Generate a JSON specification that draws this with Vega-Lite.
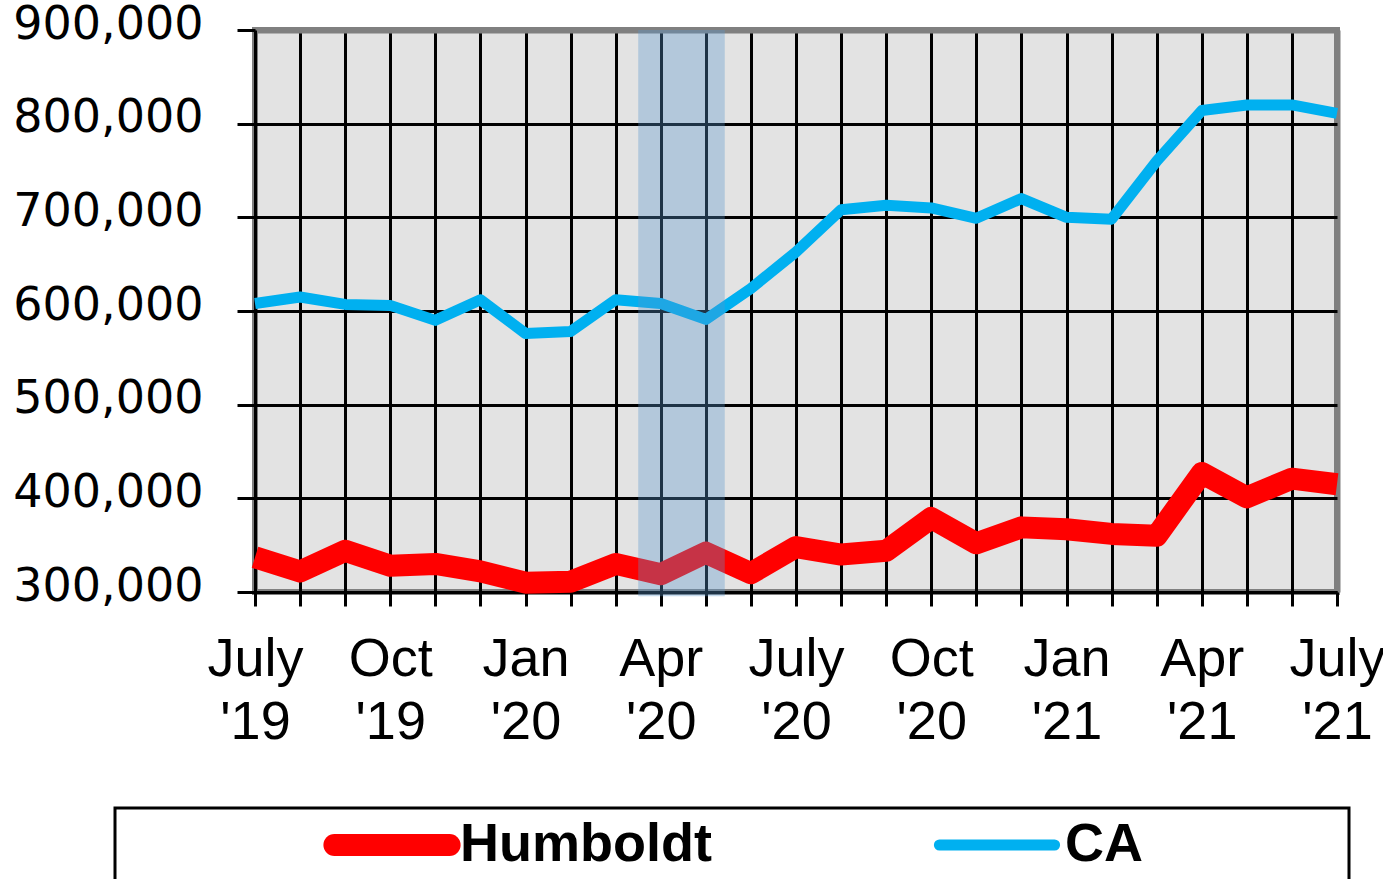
{
  "$schema": "https://vega.github.io/schema/vega-lite/v6.json",
  "width": 1082,
  "height": 562,
  "autosize": {"type": "none"},
  "padding": {"left": 255, "top": 30, "right": 46, "bottom": 287},
  "background": "white",
  "config": {
    "view": {"fill": "#e3e3e3", "stroke": "#808080", "strokeWidth": 6},
    "font": "Liberation Sans"
  },
  "datasets": {
    "series": [
      {"i": 0, "month": "2019-07", "series": "Humboldt", "value": 337000},
      {"i": 1, "month": "2019-08", "series": "Humboldt", "value": 322000},
      {"i": 2, "month": "2019-09", "series": "Humboldt", "value": 344000},
      {"i": 3, "month": "2019-10", "series": "Humboldt", "value": 328000},
      {"i": 4, "month": "2019-11", "series": "Humboldt", "value": 330000},
      {"i": 5, "month": "2019-12", "series": "Humboldt", "value": 322000},
      {"i": 6, "month": "2020-01", "series": "Humboldt", "value": 310000},
      {"i": 7, "month": "2020-02", "series": "Humboldt", "value": 311000},
      {"i": 8, "month": "2020-03", "series": "Humboldt", "value": 330000},
      {"i": 9, "month": "2020-04", "series": "Humboldt", "value": 319000},
      {"i": 10, "month": "2020-05", "series": "Humboldt", "value": 342000},
      {"i": 11, "month": "2020-06", "series": "Humboldt", "value": 320000},
      {"i": 12, "month": "2020-07", "series": "Humboldt", "value": 348000},
      {"i": 13, "month": "2020-08", "series": "Humboldt", "value": 340000},
      {"i": 14, "month": "2020-09", "series": "Humboldt", "value": 344000},
      {"i": 15, "month": "2020-10", "series": "Humboldt", "value": 379000},
      {"i": 16, "month": "2020-11", "series": "Humboldt", "value": 352000},
      {"i": 17, "month": "2020-12", "series": "Humboldt", "value": 369000},
      {"i": 18, "month": "2021-01", "series": "Humboldt", "value": 367000},
      {"i": 19, "month": "2021-02", "series": "Humboldt", "value": 362000},
      {"i": 20, "month": "2021-03", "series": "Humboldt", "value": 360000},
      {"i": 21, "month": "2021-04", "series": "Humboldt", "value": 427000},
      {"i": 22, "month": "2021-05", "series": "Humboldt", "value": 401000},
      {"i": 23, "month": "2021-06", "series": "Humboldt", "value": 421000},
      {"i": 24, "month": "2021-07", "series": "Humboldt", "value": 415000},
      {"i": 0, "month": "2019-07", "series": "CA", "value": 608000},
      {"i": 1, "month": "2019-08", "series": "CA", "value": 615000},
      {"i": 2, "month": "2019-09", "series": "CA", "value": 607000},
      {"i": 3, "month": "2019-10", "series": "CA", "value": 606000},
      {"i": 4, "month": "2019-11", "series": "CA", "value": 590000},
      {"i": 5, "month": "2019-12", "series": "CA", "value": 612000},
      {"i": 6, "month": "2020-01", "series": "CA", "value": 576000},
      {"i": 7, "month": "2020-02", "series": "CA", "value": 578000},
      {"i": 8, "month": "2020-03", "series": "CA", "value": 612000},
      {"i": 9, "month": "2020-04", "series": "CA", "value": 608000},
      {"i": 10, "month": "2020-05", "series": "CA", "value": 591000},
      {"i": 11, "month": "2020-06", "series": "CA", "value": 624000},
      {"i": 12, "month": "2020-07", "series": "CA", "value": 663000},
      {"i": 13, "month": "2020-08", "series": "CA", "value": 708000},
      {"i": 14, "month": "2020-09", "series": "CA", "value": 713000},
      {"i": 15, "month": "2020-10", "series": "CA", "value": 710000},
      {"i": 16, "month": "2020-11", "series": "CA", "value": 699000},
      {"i": 17, "month": "2020-12", "series": "CA", "value": 720000},
      {"i": 18, "month": "2021-01", "series": "CA", "value": 700000},
      {"i": 19, "month": "2021-02", "series": "CA", "value": 698000},
      {"i": 20, "month": "2021-03", "series": "CA", "value": 760000},
      {"i": 21, "month": "2021-04", "series": "CA", "value": 814000},
      {"i": 22, "month": "2021-05", "series": "CA", "value": 820000},
      {"i": 23, "month": "2021-06", "series": "CA", "value": 820000},
      {"i": 24, "month": "2021-07", "series": "CA", "value": 811000}
    ],
    "band": [{"start": 8.5, "end": 10.42, "lo": 295500, "hi": 900000}]
  },
  "layer": [
    {
      "data": {"name": "series"},
      "mark": {"type": "line", "strokeJoin": "round"},
      "encoding": {
        "x": {
          "field": "i",
          "type": "quantitative",
          "scale": {"domain": [0, 24], "nice": false, "zero": false},
          "axis": {
            "title": null,
            "values": [0,1,2,3,4,5,6,7,8,9,10,11,12,13,14,15,16,17,18,19,20,21,22,23,24],
            "labelExpr": "datum.value % 3 == 0 ? [['July','Oct','Jan','Apr'][(datum.value/3)%4], \"'\" + (19 + floor((datum.value+6)/12))] : ''",
            "labelFont": "Liberation Sans",
            "labelFontSize": 54,
            "labelColor": "black",
            "labelBaseline": "alphabetic",
            "labelLineHeight": 63,
            "labelPadding": 69,
            "labelOverlap": false,
            "labelFlush": false,
            "labelBound": false,
            "labelLimit": 0,
            "tickSize": 14,
            "tickColor": "black",
            "tickWidth": 3,
            "domainColor": "black",
            "domainWidth": 3,
            "grid": true,
            "gridColor": {"condition": {"test": "datum.value == 24", "value": "#808080"}, "value": "black"},
            "gridWidth": {"condition": {"test": "datum.value == 24", "value": 6}, "value": 3},
            "gridOpacity": 1
          }
        },
        "y": {
          "field": "value",
          "type": "quantitative",
          "scale": {"domain": [300000, 900000], "nice": false, "zero": false},
          "axis": {
            "title": null,
            "values": [300000, 400000, 500000, 600000, 700000, 800000, 900000],
            "format": ",.0f",
            "labelFont": "DejaVu Sans",
            "labelFontSize": 46,
            "labelColor": "black",
            "labelPadding": 34,
            "labelOffset": -6,
            "labelLimit": 0,
            "labelOverlap": false,
            "labelFlush": false,
            "labelBound": false,
            "tickSize": 18,
            "tickColor": "black",
            "tickWidth": 3,
            "domainColor": "black",
            "domainWidth": 3,
            "grid": true,
            "gridColor": {"condition": {"test": "datum.value == 900000", "value": "#808080"}, "value": "black"},
            "gridWidth": {"condition": {"test": "datum.value == 900000", "value": 6}, "value": 3},
            "gridOpacity": 1
          }
        },
        "color": {
          "field": "series",
          "type": "nominal",
          "scale": {"domain": ["Humboldt", "CA"], "range": ["#FF0000", "#00B0F0"]},
          "legend": {
            "orient": "none",
            "legendX": -140,
            "legendY": 778,
            "direction": "horizontal",
            "columns": 2,
            "title": "\u00a0",
            "titleOrient": "right",
            "titleFontSize": 2,
            "titlePadding": 196,
            "symbolType": "M-3.6,0H3.6",
            "symbolSize": 1024,
            "symbolOffset": 240,
            "clipHeight": 54,
            "labelFont": "Liberation Sans",
            "labelFontSize": 54,
            "labelFontWeight": "bold",
            "labelColor": "black",
            "labelOffset": 41,
            "labelLimit": 0,
            "columnPadding": 18,
            "padding": 10,
            "strokeColor": "black",
            "fillColor": "white",
            "encode": {
              "symbols": {"update": {"strokeCap": {"value": "round"}}},
              "legend": {"update": {"strokeWidth": {"value": 3}}}
            }
          }
        },
        "strokeWidth": {
          "field": "series",
          "type": "nominal",
          "scale": {"domain": ["Humboldt", "CA"], "range": [22, 11]},
          "legend": {
            "orient": "none",
            "legendX": -140,
            "legendY": 778,
            "direction": "horizontal",
            "columns": 2,
            "title": "\u00a0",
            "titleOrient": "right",
            "titleFontSize": 2,
            "titlePadding": 196,
            "symbolType": "M-3.6,0H3.6",
            "symbolSize": 1024,
            "symbolOffset": 240,
            "clipHeight": 54,
            "labelFont": "Liberation Sans",
            "labelFontSize": 54,
            "labelFontWeight": "bold",
            "labelColor": "black",
            "labelOffset": 41,
            "labelLimit": 0,
            "columnPadding": 18,
            "padding": 10,
            "strokeColor": "black",
            "fillColor": "white"
          }
        }
      }
    },
    {
      "data": {"name": "band"},
      "mark": {"type": "rect", "fill": "#5896ce", "opacity": 0.34},
      "encoding": {
        "x": {"field": "start", "type": "quantitative"},
        "x2": {"field": "end"},
        "y": {"field": "lo", "type": "quantitative"},
        "y2": {"field": "hi"}
      }
    }
  ]
}
